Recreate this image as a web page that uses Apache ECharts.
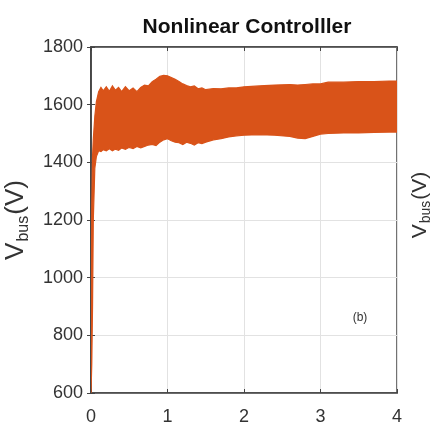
<!DOCTYPE html>
<html>
<head>
<meta charset="utf-8">
<script src="https://cdn.jsdelivr.net/npm/echarts@6/dist/echarts.min.js"></script>
<style>html,body{margin:0;padding:0;background:#fff}#c{width:436px;height:428px}</style>
</head>
<body>
<div id="c"></div>
<script>
var titleText = 'Nonlinear Controlller';
var panelTag = '(b)';
var xTicks = [0, 1, 2, 3, 4];
var yTicks = [600, 800, 1000, 1200, 1400, 1600, 1800];
var timeS = [0, 0.01, 0.02, 0.03, 0.05, 0.07, 0.1, 0.13, 0.16, 0.2, 0.24, 0.28, 0.32, 0.36, 0.4,
  0.45, 0.5, 0.55, 0.6, 0.65, 0.7, 0.75, 0.8, 0.85, 0.9, 0.95, 1.0,
  1.05, 1.1, 1.15, 1.2, 1.25, 1.3, 1.35, 1.4, 1.45, 1.5,
  1.6, 1.7, 1.8, 1.9, 2.0, 2.2, 2.4, 2.6, 2.7, 2.8, 2.9, 3.0,
  3.1, 3.3, 3.5, 3.7, 3.9, 4.0];
var vbusUpper = [600, 1250, 1420, 1480, 1560, 1610, 1645, 1660, 1648, 1662, 1646, 1665, 1650, 1660, 1645,
  1662, 1648, 1658, 1645, 1660, 1668, 1665, 1680, 1688, 1698, 1702, 1700,
  1694, 1688, 1680, 1672, 1666, 1662, 1665, 1655, 1658, 1652,
  1656, 1655, 1658, 1658, 1662, 1665, 1668, 1670, 1668, 1670, 1672, 1672,
  1678, 1678, 1680, 1680, 1682, 1682];
var vbusLower = [600, 700, 900, 1200, 1380, 1420, 1440, 1437, 1444, 1440, 1447, 1440, 1446, 1442, 1450,
  1445, 1452, 1448, 1455, 1450, 1455, 1460, 1462, 1458, 1470, 1478, 1482,
  1475, 1470, 1468, 1462, 1470, 1466, 1460, 1468, 1465, 1470,
  1478, 1482, 1488, 1492, 1494, 1496, 1494, 1490, 1484, 1482, 1490, 1498,
  1500, 1502, 1502, 1504, 1505, 1505];

var orange = '#D95319';
var bandRows = timeS.map(function (t, i) { return [t, vbusLower[i], vbusUpper[i]]; });

var chart = echarts.init(document.getElementById('c'));
var axisFont = { fontFamily: 'Liberation Sans, Arial, sans-serif', fontSize: 18, color: '#333' };
function plain(v) { return String(v); }
chart.setOption({
  animation: false,
  title: {
    text: titleText, left: 242, top: 12, textAlign: 'center',
    textStyle: { fontFamily: 'Liberation Sans, Arial, sans-serif', fontWeight: 'bold', fontSize: 21, color: '#111' }
  },
  grid: { left: 91, right: 39, top: 47, bottom: 35, show: true, borderColor: '#444', borderWidth: 1.5, containLabel: false, outerBoundsMode: 'none' },
  xAxis: [{
    type: 'value', min: xTicks[0], max: xTicks[xTicks.length - 1], interval: 1,
    axisLine: { show: true, lineStyle: { color: '#444', width: 1.5 } },
    axisTick: { show: true, inside: true, length: 4, lineStyle: { color: '#444' } },
    axisLabel: Object.assign({ margin: 15, formatter: plain }, axisFont),
    splitLine: { show: true, lineStyle: { color: '#e2e2e2', width: 1 } }
  }, {
    type: 'value', position: 'top', min: xTicks[0], max: xTicks[xTicks.length - 1], interval: 1,
    axisLine: { show: true, lineStyle: { color: '#444', width: 1.5 } },
    axisTick: { show: true, inside: true, length: 4, lineStyle: { color: '#444' } },
    axisLabel: { show: false }, splitLine: { show: false }
  }],
  yAxis: [{
    type: 'value', min: yTicks[0], max: yTicks[yTicks.length - 1], interval: 200,
    axisLine: { show: true, lineStyle: { color: '#444', width: 1.5 } },
    axisTick: { show: true, inside: true, length: 4, lineStyle: { color: '#444' } },
    axisLabel: Object.assign({ margin: 8, formatter: plain }, axisFont),
    splitLine: { show: true, lineStyle: { color: '#e2e2e2', width: 1 } },
    name: '{v|V}{s|bus}{v|(V)}',
    nameLocation: 'middle', nameRotate: 90, nameGap: 55,
    nameTextStyle: {
      rich: {
        v: { fontFamily: 'Liberation Sans, Arial, sans-serif', fontSize: 26, color: '#333', lineHeight: 32, verticalAlign: 'middle' },
        s: { fontFamily: 'Liberation Sans, Arial, sans-serif', fontSize: 16, color: '#333', lineHeight: 32, verticalAlign: 'bottom', padding: [10, 1, 0, 1] }
      }
    }
  }, {
    type: 'value', position: 'right', min: yTicks[0], max: yTicks[yTicks.length - 1], interval: 200,
    axisLine: { show: true, lineStyle: { color: '#444', width: 1.5 } },
    axisTick: { show: true, inside: true, length: 4, lineStyle: { color: '#444' } },
    axisLabel: { show: false }, splitLine: { show: false }
  }],
  graphic: [{
    type: 'text', x: 360, y: 318,
    style: { text: panelTag, font: '12px Liberation Sans, Arial, sans-serif', fill: '#333', align: 'center', verticalAlign: 'middle' }
  }, {
    type: 'text', x: 420, y: 205, rotation: Math.PI / 2,
    style: {
      text: '{v|V}{s|bus}{v|(V)}', align: 'center', verticalAlign: 'middle',
      rich: {
        v: { fontFamily: 'Liberation Sans, Arial, sans-serif', fontSize: 21, fill: '#333', lineHeight: 26, verticalAlign: 'middle' },
        s: { fontFamily: 'Liberation Sans, Arial, sans-serif', fontSize: 14, fill: '#333', lineHeight: 26, verticalAlign: 'bottom', padding: [8, 1, 0, 1] }
      }
    }
  }],
  series: [{
    name: 'Vbus', type: 'custom', coordinateSystem: 'cartesian2d',
    data: [0], silent: true, clip: true,
    renderItem: function (params, api) {
      var pts = [];
      bandRows.forEach(function (r) { pts.push(api.coord([r[0], r[2]])); });
      for (var i = bandRows.length - 1; i >= 0; i--) { pts.push(api.coord([bandRows[i][0], bandRows[i][1]])); }
      return {
        type: 'polygon',
        shape: { points: pts },
        style: { fill: orange, stroke: orange, lineWidth: 1.2 }
      };
    }
  }]
});
</script>
</body>
</html>
